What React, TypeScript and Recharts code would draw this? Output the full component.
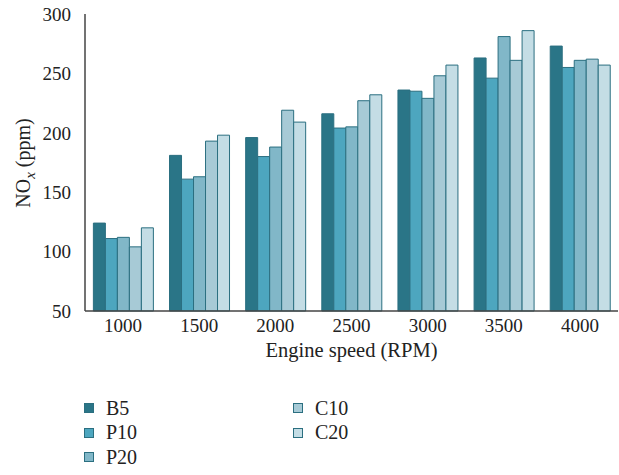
import React from "react";
import { BarChart, Bar, XAxis, YAxis } from "recharts";

const speeds = ["1000", "1500", "2000", "2500", "3000", "3500", "4000"];
const b5 = [124, 181, 196, 216, 236, 263, 273];
const p10 = [111, 161, 180, 204, 235, 246, 255];
const p20 = [112, 163, 188, 205, 229, 281, 261];
const c10 = [104, 193, 219, 227, 248, 261, 262];
const c20 = [120, 198, 209, 232, 257, 286, 257];
const yTicks = [50, 100, 150, 200, 250, 300];

const series = [
  { key: "B5", values: b5, fill: "#2a7587" },
  { key: "P10", values: p10, fill: "#4da6bf" },
  { key: "P20", values: p20, fill: "#81b7c8" },
  { key: "C10", values: c10, fill: "#a7cad6" },
  { key: "C20", values: c20, fill: "#c4dde5" },
];

const data = speeds.map((s, i) => {
  const row: Record<string, string | number> = { speed: s };
  series.forEach((sr) => (row[sr.key] = sr.values[i]));
  return row;
});

const FONT = "'Liberation Serif', 'DejaVu Serif', serif";
const STROKE = "#2b6f80";

const YLabel = () => (
  <text
    x={0}
    y={0}
    transform="translate(30,163) rotate(-90)"
    textAnchor="middle"
    fontFamily={FONT}
    fontSize={20}
    fill="#222"
  >
    NO
    <tspan fontStyle="italic" fontSize={15} dy={5}>x</tspan>
    <tspan dy={-5}> (ppm)</tspan>
  </text>
);

export default function App() {
  const legendCols = [series.slice(0, 3), series.slice(3)];
  return (
    <div style={{ position: "absolute", left: 0, top: 0, width: 619, height: 475, background: "#fff" }}>
      <BarChart
        width={619}
        height={475}
        data={data}
        margin={{ top: 14, right: 1, left: 0, bottom: 104 }}
        barCategoryGap="11%"
        barGap={0}
      >
        <XAxis
          dataKey="speed"
          height={60}
          tickLine={false}
          axisLine={{ stroke: "#444", strokeWidth: 1.5 }}
          tick={{ fontFamily: FONT, fontSize: 19, fill: "#222" }}
          tickMargin={2}
          label={{
            value: "Engine speed (RPM)",
            position: "insideTop",
            offset: 31,
            style: { fontFamily: FONT, fontSize: 20.5, fill: "#222" },
          }}
        />
        <YAxis
          width={85}
          domain={[50, 300]}
          ticks={yTicks}
          interval={0}
          tickLine={false}
          axisLine={{ stroke: "#444", strokeWidth: 1.5 }}
          tick={{ fontFamily: FONT, fontSize: 19, fill: "#222" }}
          tickMargin={8}
          label={<YLabel />}
        />
        {series.map((s) => (
          <Bar
            key={s.key}
            dataKey={s.key}
            fill={s.fill}
            stroke={STROKE}
            strokeWidth={1}
            isAnimationActive={false}
          />
        ))}
      </BarChart>
      {legendCols.map((col, ci) => (
        <div
          key={ci}
          style={{ position: "absolute", left: ci === 0 ? 84 : 293, top: 396, fontFamily: FONT, fontSize: 20, color: "#222" }}
        >
          {col.map((s) => (
            <div key={s.key} style={{ display: "flex", alignItems: "center", height: 24.5 }}>
              <span
                style={{
                  display: "inline-block",
                  width: 8,
                  height: 8,
                  background: s.fill,
                  border: `1px solid ${STROKE}`,
                  marginRight: 12,
                }}
              />
              {s.key}
            </div>
          ))}
        </div>
      ))}
    </div>
  );
}
